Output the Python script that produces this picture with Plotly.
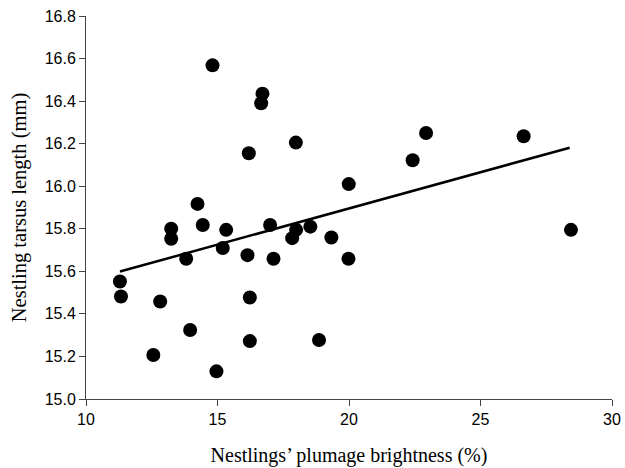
import plotly.graph_objects as go

brightness = [16.19, 19.99, 14.24, 13.24, 13.24, 14.44, 15.33, 17.00, 17.99, 17.84,
              18.53, 19.33, 15.20, 13.81, 16.14, 17.13, 19.98, 11.29, 11.33, 12.82,
              16.23, 13.96, 16.23, 18.86, 12.56, 14.96, 14.81, 16.71, 16.66, 17.98,
              22.93, 26.64, 22.42, 28.44]
tarsus = [16.155, 16.01, 15.917, 15.80, 15.753, 15.818, 15.795, 15.818, 15.795, 15.756,
          15.81, 15.759, 15.71, 15.659, 15.676, 15.659, 15.659, 15.552, 15.482, 15.458,
          15.477, 15.324, 15.272, 15.277, 15.207, 15.13, 16.568, 16.435, 16.39, 16.205,
          16.25, 16.235, 16.122, 15.795]

fit_slope = 0.03404
fit_intercept = 15.2147
fit_x = [11.29, 28.39]
fit_y = [fit_intercept + fit_slope * v for v in fit_x]

fig = go.Figure()
fig.add_trace(go.Scatter(x=fit_x, y=fit_y, mode="lines",
                         line=dict(color="black", width=2.5), showlegend=False,
                         hoverinfo="skip"))
fig.add_trace(go.Scatter(x=brightness, y=tarsus, mode="markers",
                         marker=dict(color="black", size=14), showlegend=False))

fig.update_layout(
    width=625, height=468,
    margin=dict(l=86, r=13, t=16, b=69),
    plot_bgcolor="white", paper_bgcolor="white",
    font=dict(family="Liberation Sans, Arial", size=16, color="black"),
)
fig.update_xaxes(range=[10, 30], tickvals=[10, 15, 20, 25, 30],
                 automargin=False,
                 showgrid=False, zeroline=False,
                 showline=True, linecolor="#444", linewidth=1,
                 ticks="outside", ticklen=6, tickcolor="#444",
                 tickfont=dict(family="Liberation Sans, Arial", size=16),
                 title=dict(text="Nestlings’ plumage brightness (%)",
                            font=dict(family="Liberation Serif, Times New Roman", size=20),
                            standoff=20))
fig.update_yaxes(range=[15.0, 16.8], dtick=0.2, tick0=15.0, tickformat=".1f",
                 automargin=False,
                 showgrid=False, zeroline=False,
                 showline=True, linecolor="#444", linewidth=1,
                 ticks="outside", ticklen=6, tickcolor="#444",
                 tickfont=dict(family="Liberation Sans, Arial", size=16),
                 title=dict(text="Nestling tarsus length (mm)",
                            font=dict(family="Liberation Serif, Times New Roman", size=20.5),
                            standoff=12))

fig.write_html("out.html")
